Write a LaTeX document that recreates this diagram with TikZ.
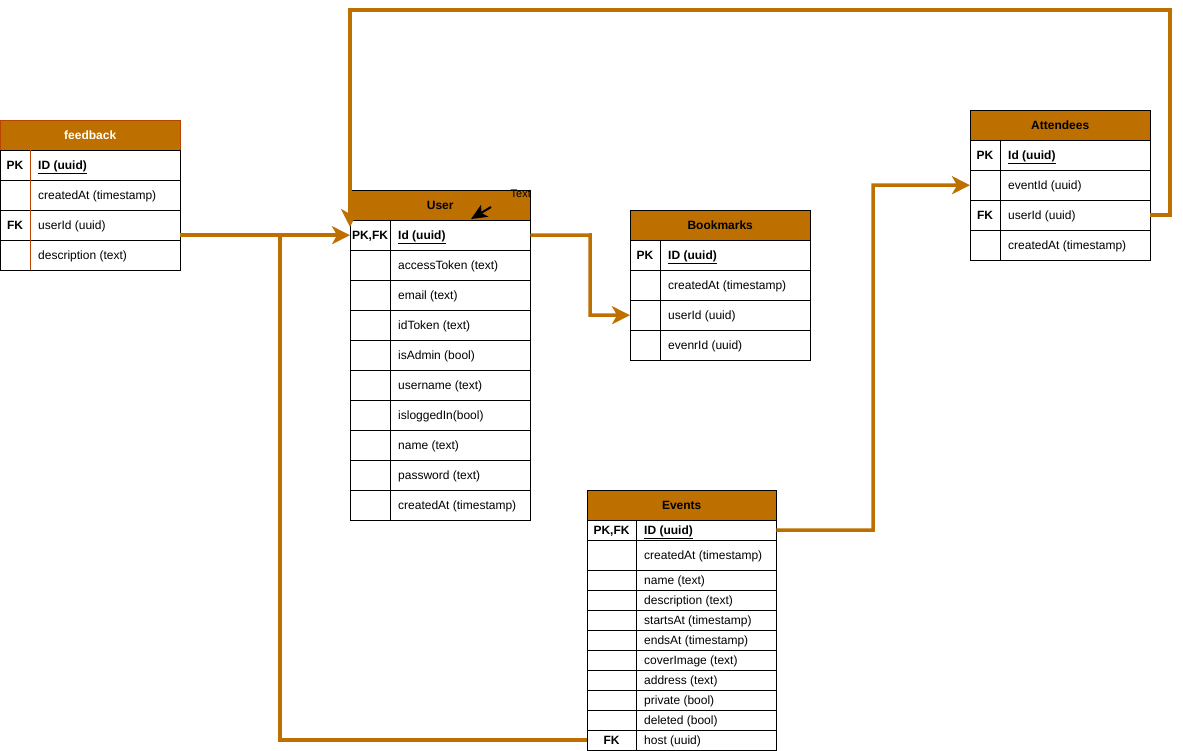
\documentclass[tikz,border=0pt]{standalone}
\usepackage{fontspec}
\setmainfont{Liberation Sans}
\usetikzlibrary{arrows.meta,calc}
\definecolor{og}{RGB}{189,112,0}
\definecolor{fbred}{RGB}{184,68,0}
\newcommand\erow[9]{%
  \node[cell, minimum width=#4, minimum height=#6*1pt] (#1) at (#2,#3) {};
  \draw[draw=#7] (#2+#5,#3) -- (#2+#5,#3+#6);
  \node[keytxt] at (#2+#5/2,#3+#6/2+4.3) {#8};
  \node[fldtxt] at (#2+#5+8,#3+#6/2+4.3) {#9};
}
\begin{document}
\begin{tikzpicture}[x=1pt,y=-1pt,
  font=\fontsize{12}{14}\selectfont,
  hdr/.style={draw=black, fill=og, minimum height=30pt, anchor=north west, inner sep=0pt, font=\fontsize{12}{14}\selectfont\bfseries},
  cell/.style={draw=black, fill=white, anchor=north west, inner sep=0pt},
  keytxt/.style={anchor=base, inner sep=0pt, font=\fontsize{12}{14}\selectfont\bfseries},
  fldtxt/.style={anchor=base west, inner sep=0pt},
  link/.style={draw=og, line width=3.5pt, line join=miter},
  tip/.style={-{Stealth[length=18pt,width=18pt,inset=5pt]}}]
\useasboundingbox (0,0) rectangle (1183,751);

% feedback
\node[hdr, draw=fbred, text=white, minimum width=180pt] (fhead) at (0,120) {feedback};
\erow{fid}{0}{150}{180pt}{30}{30}{fbred}{PK}{\textbf{\underline{ID (uuid)}}}
\erow{fcr}{0}{180}{180pt}{30}{30}{fbred}{}{createdAt (timestamp)}
\erow{fus}{0}{210}{180pt}{30}{30}{fbred}{FK}{userId (uuid)}
\erow{fde}{0}{240}{180pt}{30}{30}{fbred}{}{description (text)}

% User
\node[hdr, minimum width=180pt] (uhead) at (350,190) {User};
\erow{uid}{350}{220}{180pt}{40}{30}{black}{PK,FK}{\textbf{\underline{Id (uuid)}}}
\erow{uat}{350}{250}{180pt}{40}{30}{black}{}{accessToken (text)}
\erow{uem}{350}{280}{180pt}{40}{30}{black}{}{email (text)}
\erow{uit}{350}{310}{180pt}{40}{30}{black}{}{idToken (text)}
\erow{uad}{350}{340}{180pt}{40}{30}{black}{}{isAdmin (bool)}
\erow{uun}{350}{370}{180pt}{40}{30}{black}{}{username (text)}
\erow{uli}{350}{400}{180pt}{40}{30}{black}{}{isloggedIn(bool)}
\erow{una}{350}{430}{180pt}{40}{30}{black}{}{name (text)}
\erow{upw}{350}{460}{180pt}{40}{30}{black}{}{password (text)}
\erow{ucr}{350}{490}{180pt}{40}{30}{black}{}{createdAt (timestamp)}

% Bookmarks
\node[hdr, minimum width=180pt] (bhead) at (630,210) {Bookmarks};
\erow{bid}{630}{240}{180pt}{30}{30}{black}{PK}{\textbf{\underline{ID (uuid)}}}
\erow{bcr}{630}{270}{180pt}{30}{30}{black}{}{createdAt (timestamp)}
\erow{bus}{630}{300}{180pt}{30}{30}{black}{}{userId (uuid)}
\erow{bev}{630}{330}{180pt}{30}{30}{black}{}{evenrId (uuid)}

% Attendees
\node[hdr, minimum width=180pt] (ahead) at (970,110) {Attendees};
\erow{aid}{970}{140}{180pt}{30}{30}{black}{PK}{\textbf{\underline{Id (uuid)}}}
\erow{aev}{970}{170}{180pt}{30}{30}{black}{}{eventId (uuid)}
\erow{aus}{970}{200}{180pt}{30}{30}{black}{FK}{userId (uuid)}
\erow{acr}{970}{230}{180pt}{30}{30}{black}{}{createdAt (timestamp)}

% Events
\node[hdr, minimum width=189pt] (ehead) at (587,490) {Events};
\erow{eid}{587}{520}{189pt}{49}{20}{black}{PK,FK}{\textbf{\underline{ID (uuid)}}}
\erow{ecr}{587}{540}{189pt}{49}{30}{black}{}{createdAt (timestamp)}
\erow{ena}{587}{570}{189pt}{49}{20}{black}{}{name (text)}
\erow{ede}{587}{590}{189pt}{49}{20}{black}{}{description (text)}
\erow{est}{587}{610}{189pt}{49}{20}{black}{}{startsAt (timestamp)}
\erow{een}{587}{630}{189pt}{49}{20}{black}{}{endsAt (timestamp)}
\erow{eco}{587}{650}{189pt}{49}{20}{black}{}{coverImage (text)}
\erow{ead}{587}{670}{189pt}{49}{20}{black}{}{address (text)}
\erow{epr}{587}{690}{189pt}{49}{20}{black}{}{private (bool)}
\erow{edl}{587}{710}{189pt}{49}{20}{black}{}{deleted (bool)}
\erow{eho}{587}{730}{189pt}{49}{20}{black}{FK}{host (uuid)}

% stray label and arrow in User header
\node[anchor=east, inner sep=0pt, font=\fontsize{11}{13}\selectfont] (txt) at (531,194) {Text};
\coordinate (sa) at (491,207);
\coordinate (sb) at (471,219);
\draw[line width=2pt, -{Stealth[length=16pt,width=14pt,inset=4pt]}] (sa) -- (sb);

% connectors
\coordinate (j) at (280,235);
\draw[link] (eho.west) -| (j);
\draw[link, tip] (fus.east |- uid.west) -- (uid.west);
\coordinate (tr) at (1170,10);
\coordinate (tl) at (350,10);
\draw[link, tip] (aus.east) -| (tr) -- (tl) -- ($(uid.north west)+(0,7)$);
\coordinate (m1) at (590,235);
\draw[link, tip] (uid.east) -- (m1) |- (bus.west);
\coordinate (m2) at (873,530);
\draw[link, tip] (eid.east) -- (m2) |- (aev.west);
\end{tikzpicture}
\end{document}
